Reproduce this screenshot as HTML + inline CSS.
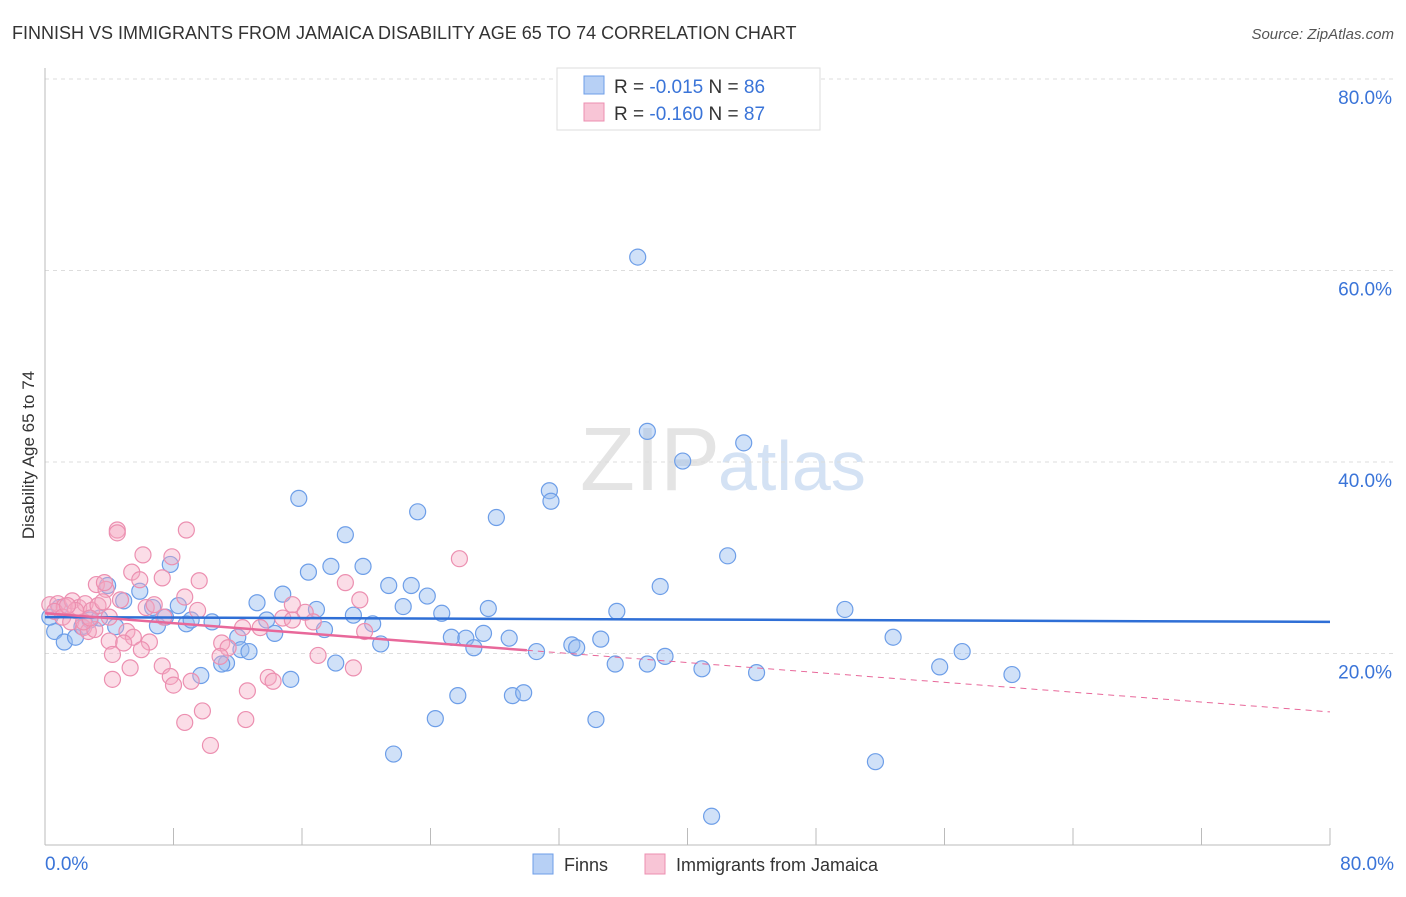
<!DOCTYPE html>
<html><head><meta charset="utf-8"><style>
body{margin:0;background:#fff;font-family:"Liberation Sans",sans-serif;}
svg text{font-family:"Liberation Sans",sans-serif;}
</style></head><body>
<svg width="1406" height="892">
<text x="12" y="39" font-size="18" fill="#333">FINNISH VS IMMIGRANTS FROM JAMAICA DISABILITY AGE 65 TO 74 CORRELATION CHART</text>
<text x="1394" y="39" font-size="15" fill="#555" text-anchor="end" font-style="italic">Source: ZipAtlas.com</text>
<text x="720" y="490" font-size="90" fill="#e4e4e4" text-anchor="end" font-family="Liberation Serif">ZIP</text>
<text x="718" y="490" font-size="70" fill="#d4e2f4">atlas</text>
<g id="grid"></g><g id="axes"></g><g id="pts"></g><g id="lines"></g>
<text transform="translate(34,455) rotate(-90)" font-size="17" fill="#333" text-anchor="middle">Disability Age 65 to 74</text>
<g>
<rect x="557" y="68" width="263" height="62" fill="#fff" stroke="#ddd"/>
<rect x="584" y="76" width="20" height="18" fill="#b7d0f5" stroke="#6d9ee8"/>
<rect x="584" y="103" width="20" height="18" fill="#f8c5d6" stroke="#ec8fb0"/>
<text x="614" y="93" font-size="19" fill="#333">R = <tspan fill="#3a74d8">-0.015</tspan>   N = <tspan fill="#3a74d8">86</tspan></text>
<text x="614" y="120" font-size="19" fill="#333">R = <tspan fill="#3a74d8">-0.160</tspan>   N = <tspan fill="#3a74d8">87</tspan></text>
</g>
<g>
<rect x="533" y="854" width="20" height="20" fill="#b7d0f5" stroke="#6d9ee8"/>
<text x="564" y="871" font-size="18" fill="#333">Finns</text>
<rect x="645" y="854" width="20" height="20" fill="#f8c5d6" stroke="#ec8fb0"/>
<text x="676" y="871" font-size="18" fill="#333">Immigrants from Jamaica</text>
</g>
</svg>
<script>
const blueX=[36.9,37.5,43.5,39.7,31.4,31.5,15.8,23.2,28.1,18.7,42.5,16.4,17.8,19.8,7.8,38.3,21.4,22.8,14.8,23.8,13.2,22.3,27.6,35.6,49.8,8.3,24.7,19.2,16.9,13.8,10.4,8.8,20.4,17.4,14.3,12.0,27.3,25.3,28.9,26.2,34.6,52.8,20.9,32.8,26.7,33.1,30.6,12.2,12.7,38.6,57.1,11.3,11.0,35.5,37.5,18.1,40.9,55.7,44.3,60.2,9.7,15.3,25.7,29.1,29.8,24.3,34.3,21.7,51.7,41.5,0.6,1.2,1.9,2.3,2.8,3.4,3.9,4.4,4.9,5.9,6.7,7.0,7.5,9.1,0.3,0.9];
const blueY=[61.4,43.2,42.0,40.1,37.0,35.9,36.2,34.8,34.2,32.4,30.2,28.5,29.1,29.1,29.3,27.0,27.1,27.1,26.2,26.0,25.3,24.9,24.7,24.4,24.6,25.0,24.2,24.0,24.6,23.5,23.3,23.1,23.1,22.5,22.1,21.7,22.1,21.7,21.6,21.6,21.5,21.7,21.0,20.9,20.6,20.6,20.2,20.4,20.2,19.7,20.2,19.0,18.9,18.9,18.9,19.0,18.4,18.6,18.0,17.8,17.7,17.3,15.6,15.6,15.9,13.2,13.1,9.5,8.7,3.0,22.3,21.2,21.7,22.8,23.5,23.7,27.1,22.8,25.5,26.5,24.8,22.9,23.8,23.5,23.8,24.8];
const pinkX=[4.5,4.5,8.8,6.1,7.9,25.8,5.4,7.3,18.7,3.2,5.9,9.6,3.8,8.7,19.6,0.3,0.8,1.2,1.7,2.1,2.5,2.9,3.3,3.6,4.0,0.6,1.1,1.6,2.4,2.7,3.1,4.7,6.3,6.8,7.4,9.5,15.4,16.2,14.8,16.7,12.3,5.1,5.5,6.5,4.0,4.9,11.0,11.4,19.9,4.2,6.0,17.0,10.9,7.3,19.2,5.3,7.8,4.2,8.0,9.1,13.9,14.2,12.6,8.7,9.8,12.5,10.3,15.4,13.4,2.4,2.8,1.9,1.4,3.7];
const pinkY=[32.9,32.6,32.9,30.3,30.1,29.9,28.5,27.9,27.4,27.2,27.7,27.6,26.7,25.9,25.6,25.1,25.2,24.9,25.5,24.8,25.2,24.5,25.0,25.4,23.8,24.4,23.8,23.3,22.7,22.3,22.5,25.6,24.8,25.1,23.8,24.5,25.1,24.3,23.7,23.3,22.7,22.3,21.7,21.2,21.3,21.1,21.1,20.6,22.3,19.9,20.4,19.8,19.7,18.7,18.5,18.5,17.6,17.3,16.7,17.1,17.5,17.1,16.1,12.8,14.0,13.1,10.4,23.5,22.7,23.3,23.7,24.5,25.0,27.4];
const yTicks=[20,40,60,80];
const blueTrend=[23.8,23.3];
const pinkTrend=[24.2,13.9];
const pinkSolidEnd=30;
const NS='http://www.w3.org/2000/svg';
const sx=v=>45+v*(1330-45)/80;
const sy=v=>845-v*(845-79)/80;
function mk(p,t,a){const e=document.createElementNS(NS,t);for(const k in a)e.setAttribute(k,a[k]);document.getElementById(p).appendChild(e);return e;}
yTicks.forEach(t=>{
 const g=mk('grid','line',{x1:45,x2:1394,y1:sy(t),y2:sy(t),stroke:'#ddd','stroke-dasharray':'4,4'});
 
 
 const l=mk('grid','text',{x:1392,y:sy(t)+25,'text-anchor':'end','font-size':19,fill:'#3a74d8'});
 l.textContent=t.toFixed(1)+'%';
 
 
});
const ax=mk('axes','line',{x1:45,x2:1330,y1:845,y2:845,stroke:'#bbb'});


const ay=mk('axes','line',{x1:45,x2:45,y1:68,y2:845,stroke:'#bbb'});


for(let i=0;i<=10;i++){const tk=mk('axes','line',{x1:sx(i*8),x2:sx(i*8),y1:828,y2:845,stroke:'#bbb'});
 
 }
const x0=mk('axes','text',{x:45,y:870,'font-size':19,fill:'#3a74d8'});x0.textContent='0.0%';


const x1=mk('axes','text',{x:1394,y:870,'font-size':19,fill:'#3a74d8','text-anchor':'end'});x1.textContent='80.0%';


blueX.forEach((v,i)=>{const c=mk('pts','circle',{cx:sx(v),cy:sy(blueY[i]),r:8,fill:'rgba(150,188,240,0.45)',stroke:'#6d9ee8','stroke-width':1.2});
 
 });
pinkX.forEach((v,i)=>{const c=mk('pts','circle',{cx:sx(v),cy:sy(pinkY[i]),r:8,fill:'rgba(245,170,195,0.4)',stroke:'#ec8fb0','stroke-width':1.2});
 
 });
const bl=mk('lines','line',{x1:sx(0),y1:sy(blueTrend[0]),x2:sx(80),y2:sy(blueTrend[1]),stroke:'#2f6fd6','stroke-width':2.5});


const pm=pinkTrend[0]+(pinkTrend[1]-pinkTrend[0])*pinkSolidEnd/80;
const pl=mk('lines','line',{x1:sx(0),y1:sy(pinkTrend[0]),x2:sx(pinkSolidEnd),y2:sy(pm),stroke:'#e8689a','stroke-width':2.5});


const pd=mk('lines','line',{x1:sx(pinkSolidEnd),y1:sy(pm),x2:sx(80),y2:sy(pinkTrend[1]),stroke:'#e8689a','stroke-width':1,'stroke-dasharray':'6,5'});


</script>
</body></html>
